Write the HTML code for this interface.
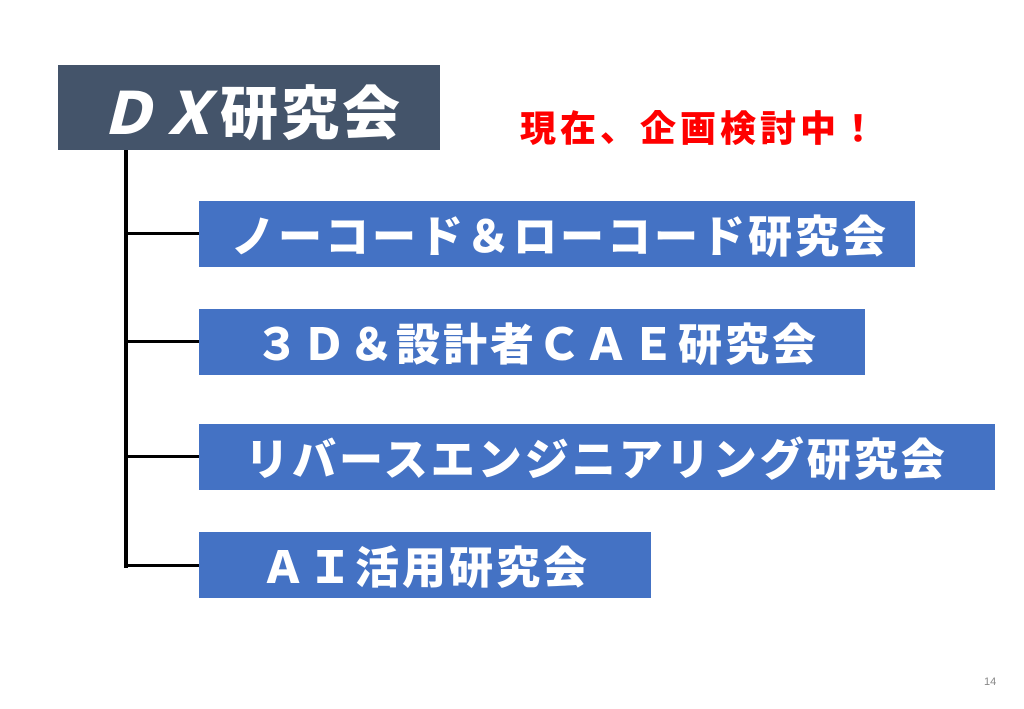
<!DOCTYPE html>
<html><head><meta charset="utf-8"><style>
body{margin:0;width:1024px;height:709px;background:#fff;position:relative;overflow:hidden;font-family:"Liberation Sans","Noto Sans CJK JP",sans-serif;font-weight:900}
.b{position:absolute;background:#4472C4;color:#fff;font-size:44px;letter-spacing:3px;line-height:74px;height:66px;white-space:nowrap;overflow:visible}
.l{position:absolute;background:#000}
</style></head><body>
<div style="position:absolute;left:58px;top:65px;width:382px;height:85px;background:#44546A;color:#fff;font-size:58px;letter-spacing:3px;line-height:100px;text-indent:40px;white-space:nowrap;overflow:hidden"><i>ＤＸ</i>研究会</div>
<div style="position:absolute;left:520px;top:106px;color:#f00;font-size:36px;letter-spacing:4px;line-height:46px;white-space:nowrap">現在、企画検討中！</div>
<div class="l" style="left:124px;top:150px;width:4px;height:418px"></div>
<div class="l" style="left:124px;top:232px;width:75px;height:3px"></div>
<div class="l" style="left:124px;top:340px;width:75px;height:3px"></div>
<div class="l" style="left:124px;top:455px;width:75px;height:3px"></div>
<div class="l" style="left:124px;top:564px;width:75px;height:3px"></div>
<div class="b" style="left:199px;top:201px;width:716px;text-indent:32px">ノーコード＆ローコード研究会</div>
<div class="b" style="left:199px;top:309px;width:666px;text-indent:56px">３Ｄ＆設計者ＣＡＥ研究会</div>
<div class="b" style="left:199px;top:424px;width:796px;text-indent:46px">リバースエンジニアリング研究会</div>
<div class="b" style="left:199px;top:532px;width:452px;text-indent:62px">ＡＩ活用研究会</div>
<div style="position:absolute;left:984px;top:676px;font-size:11px;font-weight:normal;color:#888">14</div>
</body></html>
